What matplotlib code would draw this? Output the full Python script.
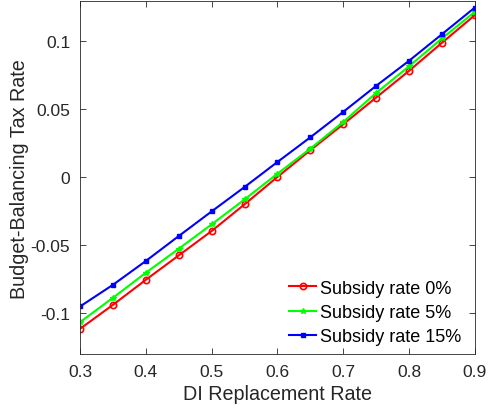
import numpy as np
import matplotlib
matplotlib.use('Agg')
import matplotlib.pyplot as plt

plt.rcParams['font.family'] = ['Liberation Sans', 'DejaVu Sans']

# DI replacement rate
x = [0.3, 0.35, 0.4, 0.45, 0.5, 0.55, 0.6, 0.65, 0.7, 0.75, 0.8, 0.85, 0.9]

# budget-balancing tax rate per subsidy rate
tax_0 = [-0.1115, -0.0939, -0.0755, -0.0576, -0.0397, -0.0201, 0.0, 0.0196,
         0.0387, 0.0583, 0.0779, 0.0985, 0.1188]
tax_5 = [-0.1066, -0.0887, -0.0703, -0.0527, -0.0348, -0.0165, 0.0024, 0.0208,
         0.0404, 0.0617, 0.0813, 0.1017, 0.1213]
tax_15 = [-0.0951, -0.0792, -0.0617, -0.0434, -0.0253, -0.0074, 0.0110, 0.0291,
          0.0478, 0.0669, 0.0853, 0.1048, 0.1244]

fig = plt.figure(figsize=(4.88, 4.14), dpi=100)
ax = fig.add_axes([0.164, 0.1425, 0.809, 0.852])

ax.plot(x, tax_0, color='red', marker='o', markersize=4.5, markerfacecolor='none',
        markeredgewidth=1.2, linewidth=1.5, label='Subsidy rate 0%')
ax.plot(x, tax_5, color='#00ff00', marker='*', markersize=4,
        linewidth=1.5, label='Subsidy rate 5%')
ax.plot(x, tax_15, color='blue', marker='s', markersize=2.2,
        linewidth=1.5, label='Subsidy rate 15%')

ax.set_xlim(0.3, 0.9)
ax.set_ylim(-0.13, 0.129)
ax.set_xticks([0.3, 0.4, 0.5, 0.6, 0.7, 0.8, 0.9])
ax.set_yticks([-0.1, -0.05, 0, 0.05, 0.1])
ax.set_yticklabels(['-0.1', '-0.05', '0', '0.05', '0.1'])
ax.tick_params(direction='in', top=True, right=True, labelsize=12.5,
               colors='#262626', length=4, width=0.6, pad=7)
for s in ax.spines.values():
    s.set_color('#262626')
    s.set_linewidth(0.6)

ax.set_xlabel('DI Replacement Rate', fontsize=14.2, color='#262626', labelpad=4)
ax.set_ylabel('Budget-Balancing Tax Rate', fontsize=14.2, color='#262626', labelpad=1)

ax.legend(loc='lower right', frameon=False, fontsize=13, handlelength=1.5,
          handletextpad=0.2, labelspacing=0.4, borderaxespad=0.0,
          borderpad=0.0, bbox_to_anchor=(0.965, 0.025))

fig.savefig('out.png', dpi=100)
